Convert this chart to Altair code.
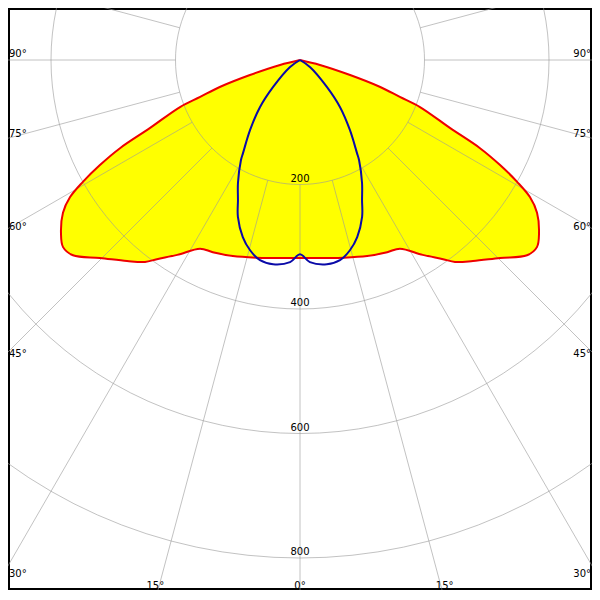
import altair as alt
import pandas as pd
import numpy as np

# ---- data (gamma in degrees from nadir, intensity in cd) ----
red_angles = [0, 12.3, 18.9, 24.4, 27.9, 32.2, 35.7, 37.5, 40.7, 45.3, 49.3, 51.7, 54.1,
              57.2, 59.2, 60.7, 62.3, 63.9, 65.6, 68.6, 69.7, 71.4, 73.3, 76, 90]
red_values = [318, 325, 333, 339, 343, 370, 394, 409, 426, 452, 481, 485, 474,
              453, 430, 400, 363, 322, 265, 207, 171, 136, 84, 33, 0]

blue_angles = [0, 2.8, 7.5, 11.3, 14.7, 17.9, 21.6, 23.9, 26.8, 30.5, 31.5, 35.5, 40.4, 45, 55, 90]
blue_values = [312, 325, 331, 328, 316, 299, 271, 246, 221, 187, 175, 138, 99, 61, 20, 0]

ring_values = [200, 400, 600, 800, 1000]
ring_labels = ["200", "400", "600", "800"]
spoke_angles = list(range(-180, 180, 15))
side_label_angles = [90, 75, 60, 45, 30]
bottom_label_angles = [-15, 0, 15]

# ---- geometry of the frame ----
K = 0.6225          # px per cd
CX, CY = 300, 60    # pole position on the page
W, H = 584, 582
X_DOMAIN = [(8 - CX) / K, (8 + W - CX) / K]
Y_DOMAIN = [(CY - 8 - H) / K, (CY - 8) / K]

xs = alt.Scale(domain=X_DOMAIN, nice=False, zero=False)
ys = alt.Scale(domain=Y_DOMAIN, nice=False, zero=False)


def curve_frame(angles, values):
    g = [-a for a in reversed(angles)] + list(angles[1:])
    v = list(reversed(values)) + list(values[1:])
    return pd.DataFrame({"g": g, "I": v, "i": range(len(g))})


red_df = curve_frame(red_angles, red_values)
blue_df = curve_frame(blue_angles, blue_values)

polar = {"x": "datum.I*sin(datum.g*PI/180)", "y": "-datum.I*cos(datum.g*PI/180)"}

X = alt.X("x:Q", scale=xs, axis=None)
Y = alt.Y("y:Q", scale=ys, axis=None)

fill = alt.Chart(red_df).transform_calculate(**polar).mark_line(
    fill="#ffff00", stroke="#ffff00", strokeWidth=0, interpolate="catmull-rom"
).encode(x=X, y=Y, order="i:Q")

red_line = alt.Chart(red_df).transform_calculate(**polar).mark_line(
    stroke="#ee0000", strokeWidth=2, interpolate="catmull-rom"
).encode(x=X, y=Y, order="i:Q")

blue_line = alt.Chart(blue_df).transform_calculate(**polar).mark_line(
    stroke="#0a0aa8", strokeWidth=2, interpolate="catmull-rom"
).encode(x=X, y=Y, order="i:Q")

# grid rings
ring_rows = [(r, t) for r in ring_values for t in range(0, 361, 3)]
ring_df = pd.DataFrame(ring_rows, columns=["r", "t"])
rings = alt.Chart(ring_df).transform_calculate(
    x="datum.r*sin(datum.t*PI/180)", y="-datum.r*cos(datum.t*PI/180)"
).mark_line(stroke="#999999", strokeWidth=1, opacity=0.6, clip=True).encode(
    x=X, y=Y, detail="r:N", order="t:Q"
)

# grid spokes (start at the 200 ring)
spoke_df = pd.DataFrame({"g": spoke_angles})
spokes = alt.Chart(spoke_df).transform_calculate(
    x="200*sin(datum.g*PI/180)", y="-200*cos(datum.g*PI/180)",
    x2="1400*sin(datum.g*PI/180)", y2="-1400*cos(datum.g*PI/180)"
).mark_rule(stroke="#999999", strokeWidth=1, opacity=0.6, clip=True).encode(
    x=X, y=Y, x2="x2:Q", y2="y2:Q"
)

FONT = "DejaVu Sans"
FS = 10

ring_lab_df = pd.DataFrame({"r": ring_values[:4], "label": ring_labels})
ring_text = alt.Chart(ring_lab_df).transform_calculate(
    x="0", y="-datum.r"
).mark_text(font=FONT, fontSize=FS, color="black", dy=-3, baseline="alphabetic").encode(
    x=X, y=Y, text="label:N"
)

edge = CX / K
side_y = [-edge * np.cos(np.radians(a)) / np.sin(np.radians(a)) for a in side_label_angles]
left_df = pd.DataFrame({
    "x": [(9 - CX) / K] * len(side_label_angles),
    "y": side_y,
    "label": [f"{a}°" for a in side_label_angles],
})
right_df = pd.DataFrame({
    "x": [(591 - CX) / K] * len(side_label_angles),
    "y": side_y,
    "label": [f"{a}°" for a in side_label_angles],
})
bottom_y = (CY - 589) / K
bottom_df = pd.DataFrame({
    "x": [(CY - 600) / K * np.tan(np.radians(a)) * -1 for a in bottom_label_angles],
    "y": [bottom_y] * len(bottom_label_angles),
    "label": [f"{abs(a)}°" for a in bottom_label_angles],
})

left_text = alt.Chart(left_df).mark_text(
    font=FONT, fontSize=FS, color="black", align="left", dy=-3, baseline="alphabetic"
).encode(x=X, y=Y, text="label:N")
right_text = alt.Chart(right_df).mark_text(
    font=FONT, fontSize=FS, color="black", align="right", dy=-3, baseline="alphabetic"
).encode(x=X, y=Y, text="label:N")
bottom_text = alt.Chart(bottom_df).mark_text(
    font=FONT, fontSize=FS, color="black", align="center", baseline="alphabetic"
).encode(x=X, y=Y, text="label:N")

chart = alt.layer(
    fill, rings, spokes, red_line, blue_line, ring_text, left_text, right_text, bottom_text
).properties(
    width=W, height=H, padding=0, autosize=alt.AutoSizeParams(type="none")
).configure_view(stroke="black", strokeWidth=4)

chart.save("out.html", embed_options={"renderer": "svg", "actions": False})
